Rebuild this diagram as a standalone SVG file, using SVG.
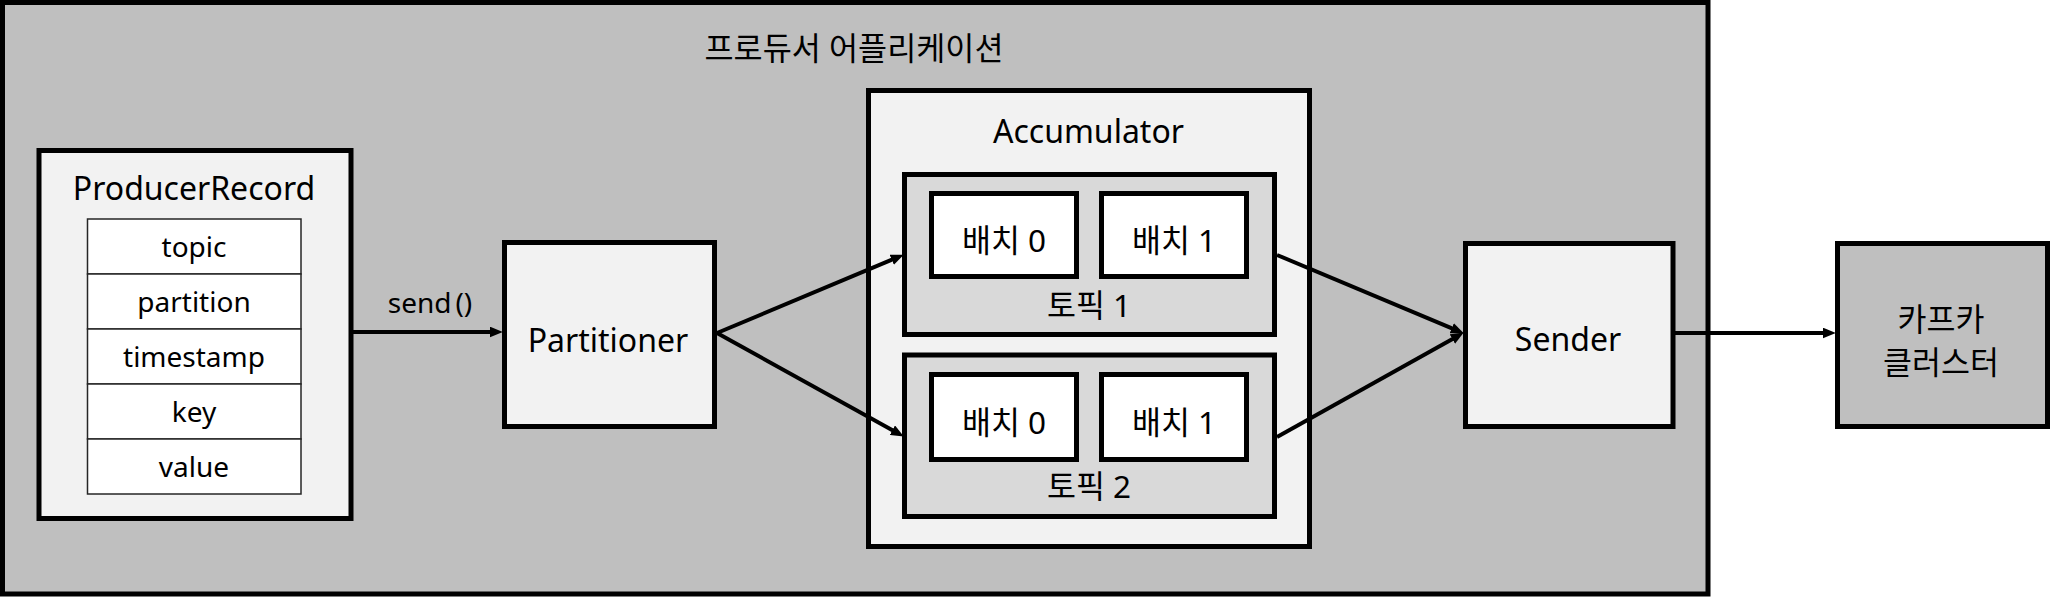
<svg xmlns="http://www.w3.org/2000/svg" width="2050" height="597" viewBox="0 0 2050 597">
<style>
.box{stroke:#000;stroke-width:5}
.light{fill:#f2f2f2}
.gray{fill:#bfbfbf}
.topic{fill:#d9d9d9}
.white{fill:#fff}
.cell{fill:#fff;stroke:#262626;stroke-width:1.5}
text{font-family:"Noto Sans","Noto Sans CJK KR",sans-serif;fill:#000;text-anchor:middle}
.t32{font-size:32px}
.k{font-size:31.5px}
.t28{font-size:28px}
.conn{stroke:#000;stroke-width:4;fill:none;marker-end:url(#arr)}
</style>
<defs>
<marker id="arr" viewBox="0 0 12 10" refX="2" refY="5" markerWidth="13" markerHeight="11" markerUnits="userSpaceOnUse" orient="auto">
<path d="M0,0 L12,5 L0,10 z" fill="#000"/>
</marker>
</defs>
<g id="producer-app">
<rect class="box gray" x="2.5" y="2.5" width="1705.5" height="591.5"/>
<text class="k" x="854" y="60" textLength="299" lengthAdjust="spacingAndGlyphs">프로듀서 어플리케이션</text>
</g>
<g id="producer-record">
<rect class="box light" x="39" y="150.5" width="312" height="368"/>
<text class="t32" x="194" y="200">ProducerRecord</text>
<rect class="cell" x="87.5" y="219" width="213.5" height="55"/>
<rect class="cell" x="87.5" y="274" width="213.5" height="55"/>
<rect class="cell" x="87.5" y="329" width="213.5" height="55"/>
<rect class="cell" x="87.5" y="384" width="213.5" height="55"/>
<rect class="cell" x="87.5" y="439" width="213.5" height="55"/>
<text class="t28" x="194" y="257">topic</text>
<text class="t28" x="194" y="312">partition</text>
<text class="t28" x="194" y="367">timestamp</text>
<text class="t28" x="194" y="422">key</text>
<text class="t28" x="194" y="477">value</text>
</g>
<g id="partitioner">
<rect class="box light" x="504.5" y="242.5" width="210" height="184"/>
<text class="t32" x="608" y="352">Partitioner</text>
</g>
<g id="accumulator">
<rect class="box light" x="868.5" y="90.5" width="441" height="456"/>
<text class="t32" x="1088.5" y="143">Accumulator</text>
</g>
<g id="topic1">
<rect class="box topic" x="904.5" y="174.5" width="370" height="160"/>
<text class="k" x="1089" y="317">토픽 1</text>
</g>
<g id="topic1-batch0">
<rect class="box white" x="931.5" y="193.5" width="145" height="83"/>
<text class="k" x="1004" y="252">배치 0</text>
</g>
<g id="topic1-batch1">
<rect class="box white" x="1101.5" y="193.5" width="145" height="83"/>
<text class="k" x="1174" y="252">배치 1</text>
</g>
<g id="topic2">
<rect class="box topic" x="904.5" y="355" width="370" height="161.5"/>
<text class="k" x="1089" y="498">토픽 2</text>
</g>
<g id="topic2-batch0">
<rect class="box white" x="931.5" y="374.5" width="145" height="85"/>
<text class="k" x="1004" y="434">배치 0</text>
</g>
<g id="topic2-batch1">
<rect class="box white" x="1101.5" y="374.5" width="145" height="85"/>
<text class="k" x="1174" y="434">배치 1</text>
</g>
<g id="sender">
<rect class="box light" x="1465.5" y="243.5" width="207.5" height="183"/>
<text class="t32" x="1568" y="351">Sender</text>
</g>
<g id="kafka-cluster">
<rect class="box gray" x="1837.5" y="243.5" width="210" height="183"/>
<text class="k" x="1941" y="331">카프카</text>
<text class="k" x="1941" y="374">클러스터</text>
</g>
<g id="connectors">
<line class="conn" x1="353" y1="332" x2="492" y2="332"/>
<text class="t28" x="430" y="313" font-size="29">send<tspan dx="4">()</tspan></text>
<line class="conn" x1="717" y1="333" x2="893.8" y2="258.9"/>
<line class="conn" x1="717" y1="333" x2="894.3" y2="431.2"/>
<line class="conn" x1="1277" y1="255" x2="1453.8" y2="329.1"/>
<line class="conn" x1="1277" y1="437" x2="1454.3" y2="337.9"/>
<line class="conn" x1="1675" y1="333" x2="1825" y2="333"/>
</g>
</svg>
